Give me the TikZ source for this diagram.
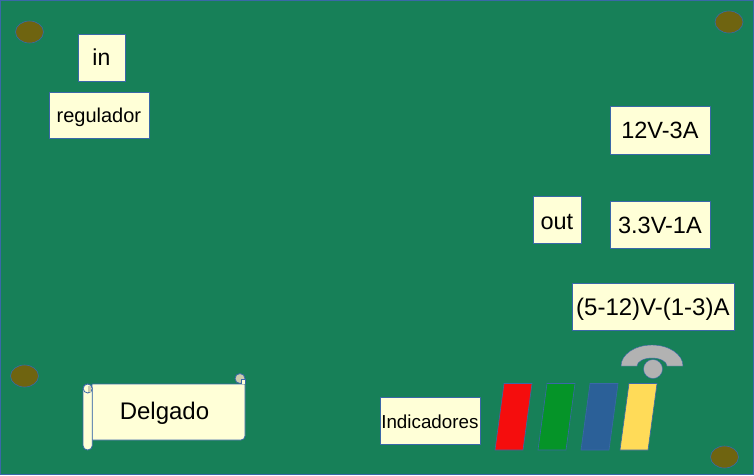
\documentclass[tikz,border=0pt]{standalone}
\usepackage{fontspec}
\setmainfont{Liberation Sans}
\usepackage{tikz}
\usetikzlibrary{shapes.geometric}
\definecolor{boardgreen}{HTML}{178058}
\definecolor{edgeblue}{HTML}{3A68A8}
\definecolor{paper}{HTML}{FFFFD7}
\definecolor{holeolive}{HTML}{6F6410}
\definecolor{wifigray}{HTML}{B2B2B2}
\definecolor{curltan}{HTML}{CCCCAC}
\definecolor{ledred}{HTML}{F50D0D}
\definecolor{ledgreen}{HTML}{059428}
\definecolor{ledblue}{HTML}{2B6098}
\definecolor{ledyellow}{HTML}{FFDB58}
\tikzset{
	label box/.style={draw=edgeblue, fill=paper, text=black, inner sep=0pt, line width=0.7pt, align=center, text depth=0pt},
	hole/.style={ellipse, draw=edgeblue, fill=holeolive, minimum width=28pt, minimum height=22pt, inner sep=0pt, line width=0.6pt},
	led/.style={draw=edgeblue, line width=0.6pt}
}
\begin{document}
\begin{tikzpicture}[x=1pt, y=-1pt]
	\useasboundingbox (0,0) rectangle (754,475);
	
	\draw[draw=edgeblue, fill=boardgreen, line width=1.5pt] (0.7,0.7) rectangle (753.3,474.3);
	
	\node[hole] (hole_tl) at (29.5,32) {};
	\node[hole] (hole_tr) at (729,22) {};
	\node[hole] (hole_bl) at (24.5,376) {};
	\node[hole] (hole_br) at (724.5,457) {};
	
	\node[label box, minimum width=47pt, minimum height=47pt, text height=15pt, font=\fontsize{23}{25}\selectfont] (in) at (101.4,58.3) {in};
	\node[label box, minimum width=100pt, minimum height=46pt, text height=14pt, font=\fontsize{20}{22}\selectfont] (regulador) at (98.9,115) {regulador};
	\node[label box, minimum width=100pt, minimum height=48pt, text height=17pt, font=\fontsize{23.5}{25}\selectfont] (twelve) at (659.9,130) {12V-3A};
	\node[label box, minimum width=48pt, minimum height=47pt, text height=17.5pt, font=\fontsize{23.5}{25}\selectfont] (out) at (556.9,220.3) {out};
	\node[label box, minimum width=100pt, minimum height=47pt, text height=17pt, font=\fontsize{23.5}{25}\selectfont] (three) at (659.9,225.3) {3.3V-1A};
	\node[label box, minimum width=162pt, minimum height=47pt, text height=18pt, font=\fontsize{24}{26}\selectfont] (range) at (652.9,306.5) {(5-12)V-(1-3)A};
	\node[label box, minimum width=100pt, minimum height=47pt, text height=14pt, font=\fontsize{18.8}{20}\selectfont] (indicadores) at (429.9,421.3) {Indicadores};
	
	% pergamino
	\draw[draw=edgeblue, fill=curltan, line width=0.8pt] (240,378.5) circle (5pt);
	\draw[draw=edgeblue, fill=paper, line width=0.8pt]
		(92,384) -- (245,384) -- (245,436) arc[start angle=0, end angle=90, radius=4] -- (92,440) -- cycle;
	\draw[draw=edgeblue, fill=paper, line width=0.8pt] (241,384) -- (241,379) -- (245,379) -- (245,384);
	\draw[draw=edgeblue, fill=paper, line width=0.8pt, rounded corners=4.5pt]
		(83,384) -- (92.3,384) -- (92.3,450) -- (83,450) -- cycle;
	\draw[draw=edgeblue, fill=paper, line width=0.8pt] (87.7,388.5) circle (4.5pt);
	\fill[curltan] (87.7,386) -- (91,386) -- (91,392) -- (87.7,392) -- cycle;
	\node[text=black, font=\fontsize{24}{26}\selectfont] (delgado) at (164.5,413) {Delgado};
	
	\foreach \barx/\barcolor in {495/ledred, 538/ledgreen, 581/ledblue, 620/ledyellow}
		\draw[led, fill=\barcolor] (\barx,450) -- (\barx+9,383.5) -- (\barx+37,383.5) -- (\barx+28,450) -- cycle;
	
	% wifi
	\draw[draw=edgeblue, fill=wifigray, line width=0.4pt]
		(621,366) arc[start angle=180, end angle=0, x radius=31, y radius=-21]
		-- (667,366) arc[start angle=0, end angle=180, x radius=15, y radius=-8] -- cycle;
	\node[circle, draw=edgeblue, fill=wifigray, minimum size=19pt, inner sep=0pt, line width=0.4pt] (wifi_dot) at (653,369) {};
\end{tikzpicture}
\end{document}
